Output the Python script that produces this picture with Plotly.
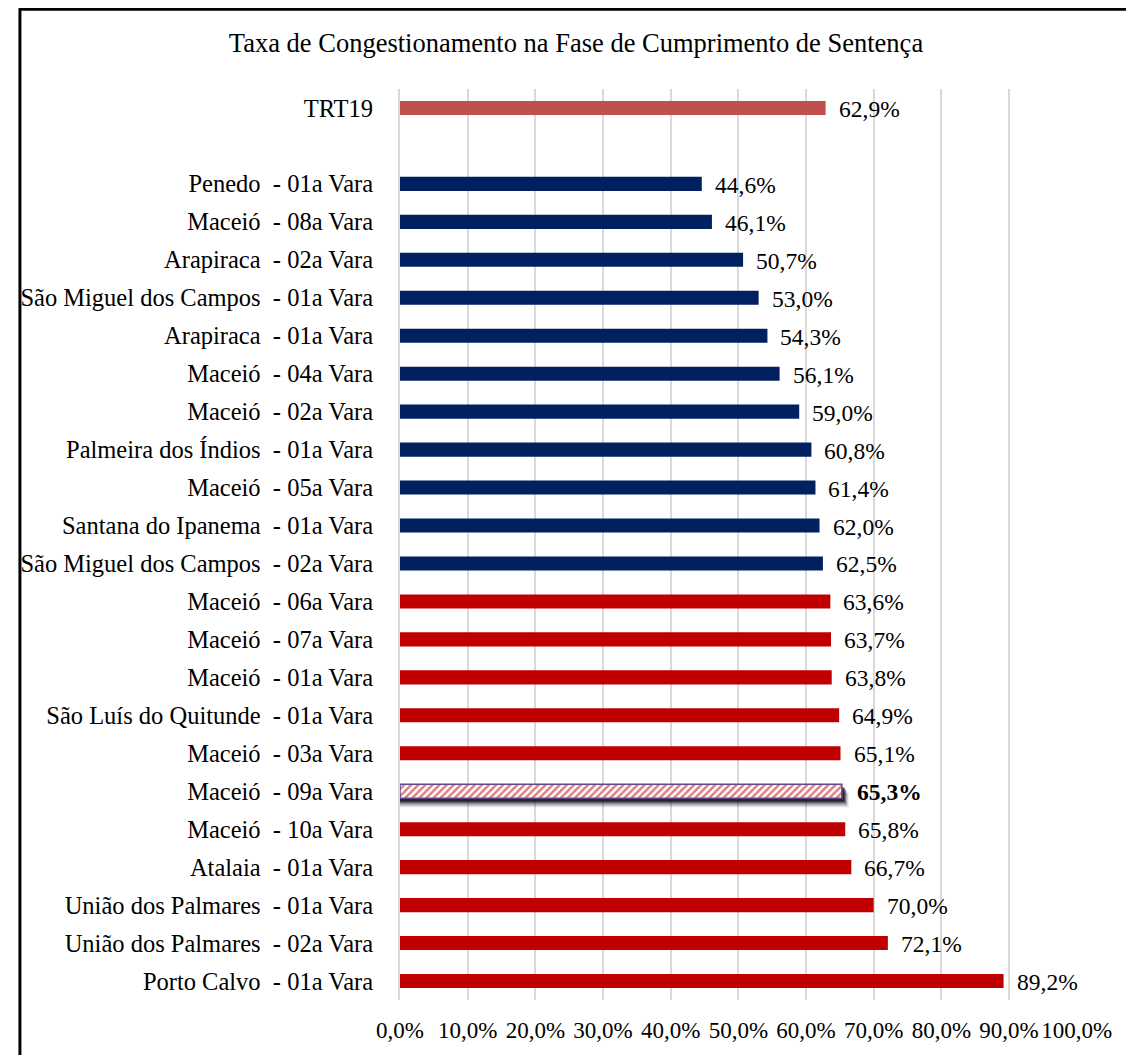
import plotly.graph_objects as go

# ---------------- data ----------------
title_text = "Taxa de Congestionamento na Fase de Cumprimento de Sentença"
total_label = "TRT19"
total_value = 62.9
units = [
    "Penedo  - 01a Vara",
    "Maceió  - 08a Vara",
    "Arapiraca  - 02a Vara",
    "São Miguel dos Campos  - 01a Vara",
    "Arapiraca  - 01a Vara",
    "Maceió  - 04a Vara",
    "Maceió  - 02a Vara",
    "Palmeira dos Índios  - 01a Vara",
    "Maceió  - 05a Vara",
    "Santana do Ipanema  - 01a Vara",
    "São Miguel dos Campos  - 02a Vara",
    "Maceió  - 06a Vara",
    "Maceió  - 07a Vara",
    "Maceió  - 01a Vara",
    "São Luís do Quitunde  - 01a Vara",
    "Maceió  - 03a Vara",
    "Maceió  - 09a Vara",
    "Maceió  - 10a Vara",
    "Atalaia  - 01a Vara",
    "União dos Palmares  - 01a Vara",
    "União dos Palmares  - 02a Vara",
    "Porto Calvo  - 01a Vara",
]
values = [44.6, 46.1, 50.7, 53.0, 54.3, 56.1, 59.0, 60.8, 61.4, 62.0, 62.5,
          63.6, 63.7, 63.8, 64.9, 65.1, 65.3, 65.8, 66.7, 70.0, 72.1, 89.2]
highlight = "Maceió  - 09a Vara"
x_ticks = [0, 10, 20, 30, 40, 50, 60, 70, 80, 90, 100]

# ---------------- styles ----------------
FONT = "Liberation Serif, Times New Roman, serif"
C_TOTAL = "#c0504d"
C_LOW = "#002060"
C_HIGH = "#c00000"
BAR_W = 0.37

# page has an 8px body margin -> figure is 8px smaller and shifted
W, H = 1126, 1047
ML, MT, PW, PH = 385, 81, 684, 914
MR = W - ML - PW
MB = H - MT - PH

def fmt(v):
    return f"{v:.1f}".replace(".", ",") + "%"

unit_pos = [i + 2 for i in range(len(units))]
tick_vals = [0] + unit_pos
tick_text = [total_label] + [u.replace("  ", "\u00a0\u00a0") for u in units]

normal_idx = [i for i, u in enumerate(units) if u != highlight]
hi_idx = [i for i, u in enumerate(units) if u == highlight]

fig = go.Figure()

fig.add_trace(go.Bar(
    x=[total_value], y=[0], orientation="h", width=BAR_W,
    marker=dict(color=C_TOTAL, line=dict(width=0)), hoverinfo="skip", showlegend=False))

fig.add_trace(go.Bar(
    x=[values[i] for i in normal_idx], y=[unit_pos[i] for i in normal_idx],
    orientation="h", width=BAR_W,
    marker=dict(color=[C_LOW if values[i] < total_value else C_HIGH for i in normal_idx],
                line=dict(width=0)),
    hoverinfo="skip", showlegend=False))

# soft shadow under the highlighted bar
for dx, dy, a in [(1.0, 0.24, 0.12), (0.8, 0.19, 0.25), (0.6, 0.14, 0.45), (0.4, 0.09, 0.75)]:
    fig.add_trace(go.Bar(
        x=[values[i] + dx for i in hi_idx], y=[unit_pos[i] for i in hi_idx],
        orientation="h", width=BAR_W, offset=-BAR_W / 2 + dy,
        marker=dict(color=f"rgba(20,15,30,{a})", line=dict(width=0)),
        hoverinfo="skip", showlegend=False))

fig.add_trace(go.Bar(
    x=[values[i] for i in hi_idx], y=[unit_pos[i] for i in hi_idx],
    orientation="h", width=BAR_W,
    marker=dict(color="white", line=dict(color="#5f4b8b", width=1.5),
                pattern=dict(shape="/", fgcolor=C_HIGH, bgcolor="white", size=5, solidity=0.5)),
    hoverinfo="skip", showlegend=False))

annotations = [dict(x=total_value, y=0, text=fmt(total_value), xanchor="left", yanchor="middle",
                    xshift=11, yshift=-1, showarrow=False, font=dict(family=FONT, size=23.5, color="#000"))]
for u, p, v in zip(units, unit_pos, values):
    txt = f"<b>{fmt(v)}</b>" if u == highlight else fmt(v)
    annotations.append(dict(x=v, y=p, text=txt, xanchor="left", yanchor="middle",
                            xshift=13 if u == highlight else 11, yshift=-1, showarrow=False,
                            font=dict(family=FONT, size=23.5, color="#000")))

fig.update_layout(
    width=W, height=H,
    margin=dict(l=ML, r=MR, t=MT, b=MB),
    paper_bgcolor="white", plot_bgcolor="white",
    barmode="overlay",
    font=dict(family=FONT, size=23, color="#000"),
    title=dict(text=title_text, x=568 / W, xref="container", xanchor="center",
               y=1 - 35 / H, yref="container", yanchor="middle",
               font=dict(family=FONT, size=26.5, color="#000")),
    annotations=annotations,
    xaxis=dict(range=[0, 100.05], tickvals=x_ticks, ticktext=[fmt(t) for t in x_ticks],
               tickangle=0, showgrid=True, gridcolor="#d9d9d9", gridwidth=2,
               zeroline=False, showline=False, ticks="", ticklabelstandoff=14,
               tickfont=dict(family=FONT, size=23, color="#000")),
    yaxis=dict(range=[23.5, -0.5], tickvals=tick_vals, ticktext=tick_text,
               showgrid=False, zeroline=False, showline=True, linecolor="#d9d9d9", linewidth=2,
               ticks="", ticklabelstandoff=20,
               tickfont=dict(family=FONT, size=24.5, color="#000")),
    shapes=[
        dict(type="line", xref="paper", yref="paper",
             x0=(0 - ML) / PW, x1=(W - ML) / PW + 0.1,
             y0=(MT + PH - 1) / PH, y1=(MT + PH - 1) / PH,
             line=dict(color="black", width=3)),
        dict(type="line", xref="paper", yref="paper",
             x0=(1 - ML) / PW, x1=(1 - ML) / PW,
             y0=(MT + PH) / PH, y1=-0.2,
             line=dict(color="black", width=3)),
    ],
)

fig.write_html("out.html")
